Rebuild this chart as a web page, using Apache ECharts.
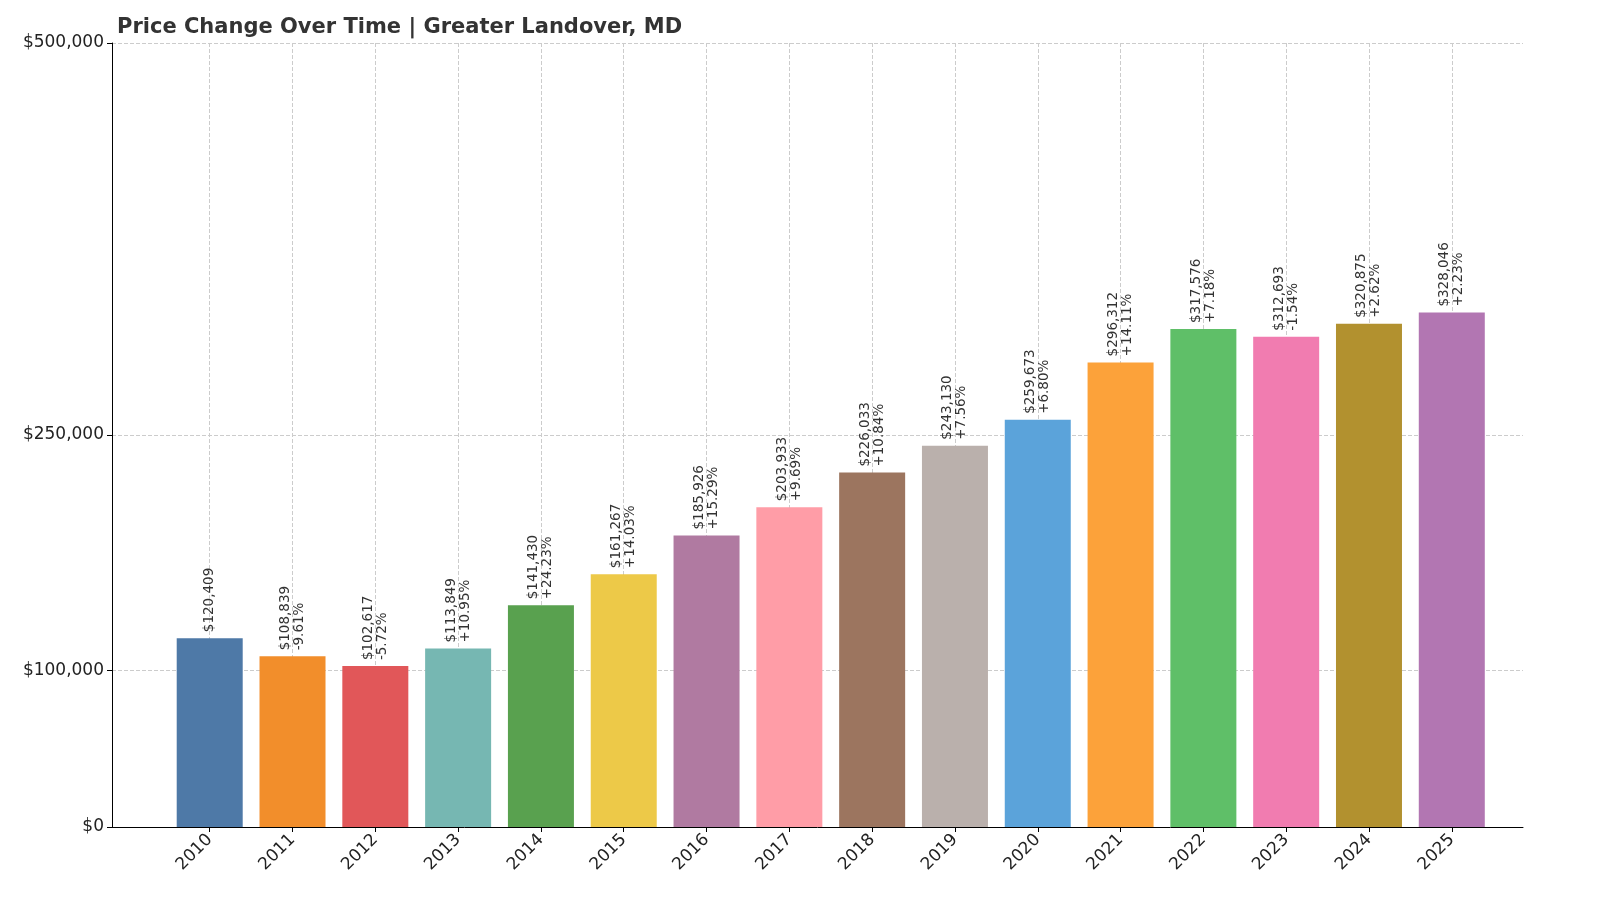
<!DOCTYPE html><html><head><meta charset="utf-8"><script src="https://cdn.jsdelivr.net/npm/echarts@6/dist/echarts.min.js"></script></head><body style="margin:0"><div id="c" style="width:1600px;height:914px"></div><script>
const years=[2010,2011,2012,2013,2014,2015,2016,2017,2018,2019,2020,2021,2022,2023,2024,2025];
const values=[120409,108839,102617,113849,141430,161267,185926,203933,226033,243130,259673,296312,317576,312693,320875,328046];
const changes=['','-9.61%','-5.72%','+10.95%','+24.23%','+14.03%','+15.29%','+9.69%','+10.84%','+7.56%','+6.80%','+14.11%','+7.18%','-1.54%','+2.62%','+2.23%'];
const colors=['#4e79a7','#f28e2b','#e15759','#76b7b2','#59a14f','#edc948','#b07aa1','#ff9da7','#9c755f','#bab0ac','#5ba3da','#fca23a','#5fbf68','#f17cb0','#b2912f','#b276b2'];
const yTicks=[0,100000,250000,500000];
const fmt=v=>'$'+v.toLocaleString('en-US');
const gl={type:'dashed',color:'#cccccc',width:1};
const c=echarts.init(document.getElementById('c'));
c.setOption({animation:false,
title:{text:'Price Change Over Time | Greater Landover, MD',left:112,top:12,textStyle:{fontSize:21,fontWeight:'bold',color:'#333',fontFamily:'DejaVu Sans'}},
grid:{left:112,right:77,top:43,bottom:87},
xAxis:{type:'value',min:2008.82,max:2025.86,splitLine:{show:false},
 axisLine:{lineStyle:{color:'#000'}},
 axisTick:{customValues:years,length:5,lineStyle:{color:'#000'}},
 axisLabel:{customValues:years,rotate:45,fontSize:17,color:'#222',fontFamily:'DejaVu Sans',margin:10,formatter:v=>String(v)}},
yAxis:{type:'value',min:0,max:500000,splitLine:{show:false},
 axisLine:{show:true,lineStyle:{color:'#000'}},
 axisTick:{show:true,customValues:yTicks,lineStyle:{color:'#000'}},
 axisLabel:{customValues:yTicks,fontSize:17,color:'#222',fontFamily:'DejaVu Sans',formatter:fmt}},
series:[{type:'bar',barWidth:66,
 data:years.map((y,i)=>({value:[y,values[i]],itemStyle:{color:colors[i]},
  label:{formatter:fmt(values[i])+(changes[i]?'\n'+changes[i]:'')}})),
 label:{show:true,position:'top',rotate:90,align:'left',verticalAlign:'middle',distance:6,fontSize:13.5,lineHeight:14,color:'#333',fontFamily:'DejaVu Sans'},
 markLine:{silent:true,symbol:'none',label:{show:false},lineStyle:gl,z:0,
  data:[...yTicks.slice(1).map(v=>({yAxis:v})),...years.map(y=>({xAxis:y}))]}}]
});
</script></body></html>
